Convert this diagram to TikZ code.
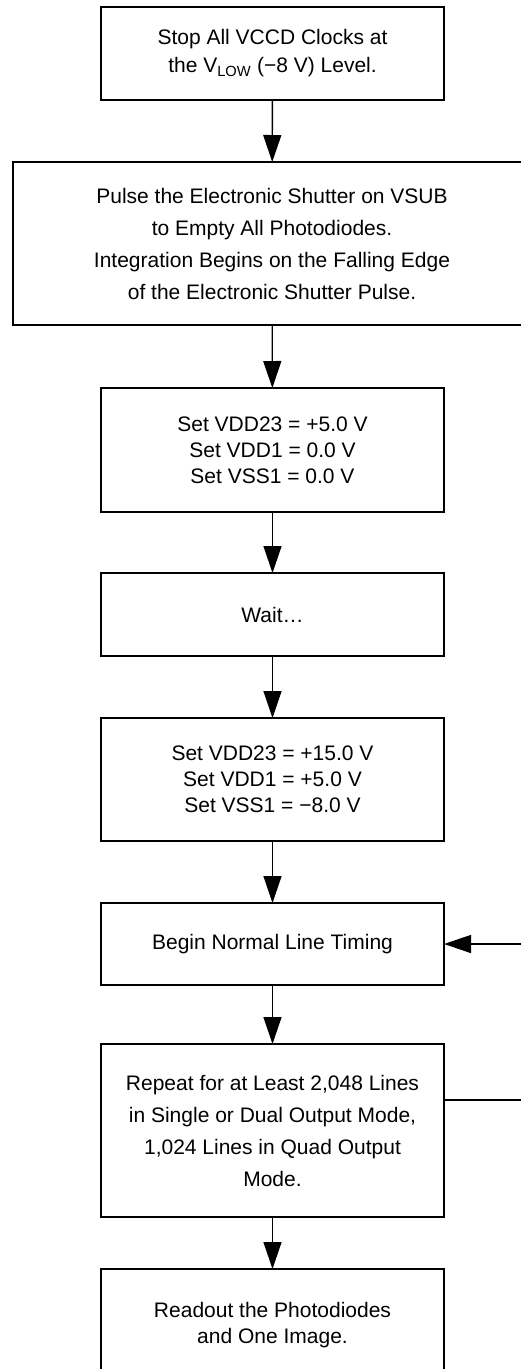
\documentclass[tikz,border=0pt]{standalone}
\usepackage{fontspec}
\setmainfont{Liberation Sans}
\usetikzlibrary{arrows.meta}
\begin{document}
\begin{tikzpicture}[x=1pt,y=1pt,
  box/.style={draw,line width=1.4pt,inner sep=0pt,outer sep=0pt,align=center,
    minimum width=343pt,font=\fontsize{21}{26}\selectfont},
  widebox/.style={box,font=\fontsize{21}{32}\selectfont},
  flow/.style={line width=1.4pt,-{Triangle[length=27pt,width=18pt]}},
  plain/.style={line width=1.4pt}]
\useasboundingbox (0,0) rectangle (521,-1369);
\clip (0,0) rectangle (521,-1369);
\node[box,minimum height=93pt,font=\fontsize{21}{28}\selectfont] (b1) at (272.5,-53.5)
  {Stop All VCCD Clocks at\\the V\textsubscript{LOW} (−8 V) Level.};
\node[widebox,minimum width=518pt,minimum height=163pt] (b2) at (272,-243.5)
  {Pulse the Electronic Shutter on VSUB\\to Empty All Photodiodes.\\Integration Begins on the Falling Edge\\of the Electronic Shutter Pulse.};
\node[box,minimum height=124pt] (b3) at (272.5,-450)
  {Set VDD23 = +5.0 V\\Set VDD1 = 0.0 V\\Set VSS1 = 0.0 V};
\node[box,minimum height=83pt] (b4) at (272.5,-614.5) {Wait…};
\node[box,minimum height=123pt] (b5) at (272.5,-779.5)
  {Set VDD23 = +15.0 V\\Set VDD1 = +5.0 V\\Set VSS1 = −8.0 V};
\node[box,minimum height=82pt] (b6) at (272.5,-944) {Begin Normal Line Timing};
\node[widebox,minimum height=173pt] (b7) at (272.5,-1130.5)
  {Repeat for at Least 2,048 Lines\\in Single or Dual Output Mode,\\1,024 Lines in Quad Output\\Mode.};
\node[box,minimum height=112pt] (b8) at (272.5,-1325)
  {Readout the Photodiodes\\and One Image.};
\draw[flow] (b1) -- (b2);
\draw[flow] (b2) -- (b3);
\draw[flow] (b3) -- (b4);
\draw[flow] (b4) -- (b5);
\draw[flow] (b5) -- (b6);
\draw[flow] (b6) -- (b7);
\draw[flow] (b7) -- (b8);
\coordinate (lo) at (540,-1100);
\coordinate (hi) at (540,-944);
\draw[plain] (b7.east |- lo) -- (lo) -- (hi);
\draw[flow] (hi) -- (b6.east);
\end{tikzpicture}
\end{document}
